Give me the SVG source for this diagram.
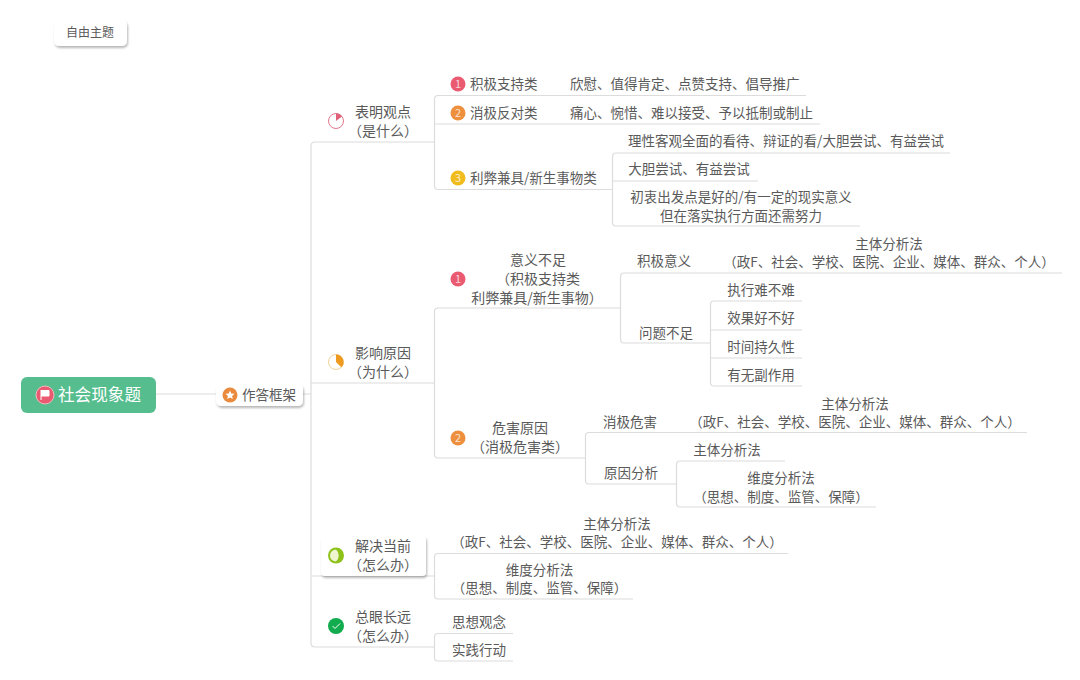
<svg xmlns="http://www.w3.org/2000/svg" width="1080" height="680" viewBox="0 0 1080 680">
<defs>
<style>
text{font-family:"Noto Sans CJK SC","Noto Sans",sans-serif;font-size:13.5px;fill:#5a5a5a;text-anchor:middle}
.s{text-anchor:start}
.h text{font-size:14px}
.h text.n{font-size:11px}
.n{font-size:11px;fill:#fff;fill-opacity:.75}
.l{fill:none;stroke:#dcdcdc;stroke-width:1.2}
.card{fill:#fff;filter:url(#sh)}
</style>
<filter id="sh" x="-20%" y="-30%" width="140%" height="170%"><feDropShadow dx="1" dy="2" stdDeviation="1.2" flood-color="#000" flood-opacity=".28"/></filter>
</defs>
<rect width="1080" height="680" fill="#fff"/>
<g id="connectors" class="l">
<path class="l" d="M156 394H216M303 394H311"/>
<path class="l" d="M434 142H315Q311 142 311 146V643Q311 647 315 647H434M311 383H434M311 576H434"/>
<path class="l" d="M806 95.500H438Q434.500 95.500 434.500 99V186Q434.500 189.500 438 189.500H612M820 124H434.500"/>
<path class="l" d="M950 153H616Q612.500 153 612.500 156.500V222.500Q612.500 226 616 226H860M612.500 181H758"/>
<path class="l" d="M620.500 308H438Q434.500 308 434.500 311.500V454.500Q434.500 458 438 458H585.500"/>
<path class="l" d="M1062 273H624Q620.500 273 620.500 276.500V339.500Q620.500 343 624 343H710.500"/>
<path class="l" d="M802 301H714Q710.500 301 710.500 304.500V382.500Q710.500 386 714 386H802M710.500 330H802M710.500 358H802"/>
<path class="l" d="M1027 432.500H589Q585.500 432.500 585.500 436V480.500Q585.500 484 589 484H676.500"/>
<path class="l" d="M785 461H680Q676.500 461 676.500 464.500V503.500Q676.500 507 680 507H876"/>
<path class="l" d="M788 553.500H438Q434.500 553.500 434.500 557V595.500Q434.500 599 438 599H633"/>
<path class="l" d="M513 633.500H438Q434.500 633.500 434.500 637V657.500Q434.500 661 438 661H513"/>
</g>
<g id="free-topic"><rect class="card" x="54" y="20" width="73" height="26" rx="5"/><text x="90" y="37" style="font-size:12px">自由主题</text></g>
<g id="root"><rect x="21" y="377" width="135" height="36" rx="6" fill="#55bd8e"/><circle cx="45" cy="395" r="9" fill="#ea5a70" stroke="#f3b9c0"/><path d="M41 390V400M41 390.500H49V396H41" fill="#fff" stroke="#fff"/><text x="99.500" y="401" style="font-size:16.600px;fill:#fff">社会现象题</text></g>
<g id="framework"><rect class="card" x="216" y="384" width="87" height="22" rx="5"/><circle cx="230" cy="395" r="7.500" fill="#e98a3c"/><polygon points="230,390.500 231.300,393.400 234.500,393.800 232.100,395.900 232.800,399 230,397.400 227.200,399 227.900,395.900 225.500,393.800 228.700,393.400" fill="#fff"/><text x="269" y="400">作答框架</text></g>
<g id="n1" class="h"><circle cx="336" cy="121" r="7.500" fill="#fff" stroke="#e0788c"/><path d="M336 121V113.500A7.500 7.500 0 0 1 342 116.500Z" fill="#e0607a"/><text x="383" y="117">表明观点</text><text x="383" y="136">（是什么）</text></g>
<g id="n1a"><circle cx="458" cy="84" r="7.500" fill="#ea5a70"/><text class="n" x="458" y="88">1</text><text class="s" x="470" y="89">积极支持类</text><text class="s" x="570" y="89">欣慰、值得肯定、点赞支持、倡导推广</text></g>
<g id="n1b"><circle cx="458" cy="113" r="7.500" fill="#ee8f3e"/><text class="n" x="458" y="117">2</text><text class="s" x="470" y="118">消极反对类</text><text class="s" x="570" y="118">痛心、惋惜、难以接受、予以抵制或制止</text></g>
<g id="n1c"><circle cx="458" cy="178" r="7.500" fill="#f0bb1c"/><text class="n" x="458" y="182">3</text><text class="s" x="470" y="183">利弊兼具/新生事物类</text></g>
<g id="n1c1"><text x="786" y="146">理性客观全面的看待、辩证的看/大胆尝试、有益尝试</text></g>
<g id="n1c2"><text x="689" y="174">大胆尝试、有益尝试</text></g>
<g id="n1c3"><text x="741" y="202">初衷出发点是好的/有一定的现实意义</text><text x="741" y="221">但在落实执行方面还需努力</text></g>
<g id="n2" class="h"><circle cx="336" cy="362" r="7.500" fill="#fff" stroke="#efd39a"/><path d="M336 362V354.500A7.500 7.500 0 0 1 341.300 367.300Z" fill="#ee9a1e"/><text x="383" y="358">影响原因</text><text x="383" y="377">（为什么）</text></g>
<g id="n2a" class="h"><circle cx="458" cy="279" r="7.500" fill="#ea5a70"/><text class="n" x="458" y="283">1</text><text x="538" y="265">意义不足</text><text x="538" y="284">（积极支持类</text><text x="537" y="303">利弊兼具/新生事物）</text></g>
<g id="n2a1"><text x="664" y="266">积极意义</text></g>
<g id="n2a1a"><text x="889" y="249">主体分析法</text><text x="889" y="267">（政F、社会、学校、医院、企业、媒体、群众、个人）</text></g>
<g id="n2a2"><text x="666" y="338">问题不足</text></g>
<g id="n2a2a"><text x="761" y="295">执行难不难</text></g>
<g id="n2a2b"><text x="761" y="323">效果好不好</text></g>
<g id="n2a2c"><text x="761" y="352">时间持久性</text></g>
<g id="n2a2d"><text x="761" y="380">有无副作用</text></g>
<g id="n2b" class="h"><circle cx="458" cy="438" r="7.500" fill="#ee8f3e"/><text class="n" x="458" y="442">2</text><text x="520" y="433">危害原因</text><text x="520" y="452">（消极危害类）</text></g>
<g id="n2b1"><text x="630" y="427">消极危害</text></g>
<g id="n2b1a"><text x="855" y="409">主体分析法</text><text x="855" y="427">（政F、社会、学校、医院、企业、媒体、群众、个人）</text></g>
<g id="n2b2"><text x="631" y="478">原因分析</text></g>
<g id="n2b2a"><text x="727" y="455">主体分析法</text></g>
<g id="n2b2b"><text x="781" y="483">维度分析法</text><text x="781" y="502">（思想、制度、监管、保障）</text></g>
<g id="n3" class="h"><rect class="card" x="321" y="536" width="105" height="40" rx="4"/><circle cx="336" cy="555.500" r="8" fill="#8ec21a"/><path d="M336 549.500A6 6 0 0 0 336 561.500A8 8 0 0 0 336 549.500Z" fill="#eef5cf"/><text x="383" y="551">解决当前</text><text x="383" y="570">（怎么办）</text></g>
<g id="n3a"><text x="617" y="529">主体分析法</text><text x="617" y="547">（政F、社会、学校、医院、企业、媒体、群众、个人）</text></g>
<g id="n3b"><text x="539.500" y="575">维度分析法</text><text x="539.500" y="593">（思想、制度、监管、保障）</text></g>
<g id="n4" class="h"><circle cx="336" cy="626" r="8" fill="#12ac4f"/><path d="M332.500 626L335 628.500L340 623.500" fill="none" stroke="#fff" stroke-width="1"/><text x="383" y="622">总眼长远</text><text x="383" y="641">（怎么办）</text></g>
<g id="n4a"><text x="479" y="627">思想观念</text></g>
<g id="n4b"><text x="479" y="655">实践行动</text></g>
</svg>
